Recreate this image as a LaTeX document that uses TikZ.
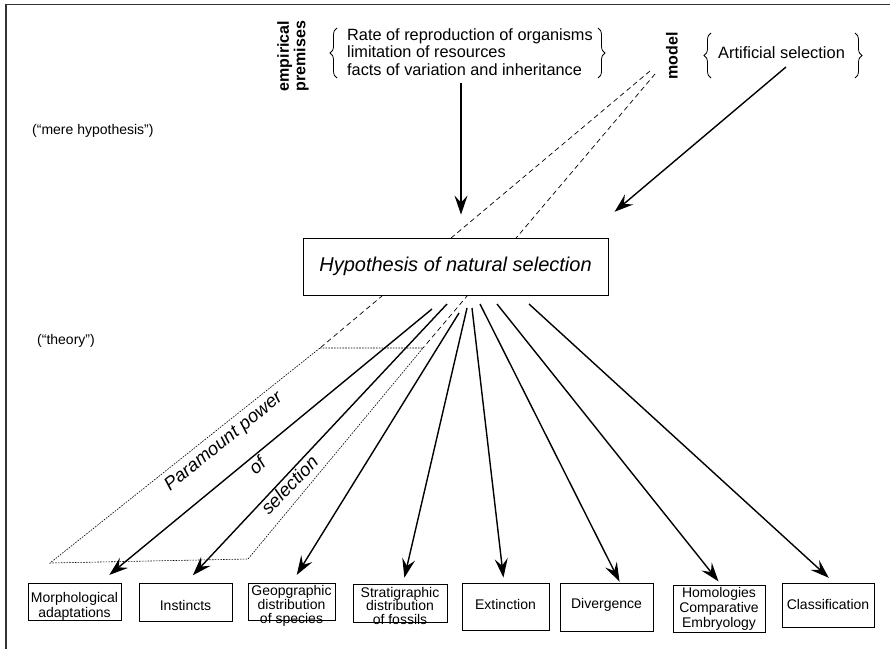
\documentclass[tikz,border=0pt]{standalone}
\usepackage{fontspec}
\setmainfont{Liberation Sans}
\usetikzlibrary{arrows.meta,decorations.pathreplacing}
\begin{document}
\begin{tikzpicture}[x=1pt,y=-1pt,
  premtxt/.style={font=\fontsize{16.3}{17.5}\selectfont, inner sep=0pt, anchor=base west},
  sidetxt/.style={font=\fontsize{14}{16}\selectfont, inner sep=0pt, anchor=base west},
  vlabel/.style={font=\fontsize{16}{16.5}\selectfont\bfseries, inner sep=0pt, rotate=90, align=center},
  outbox/.style={draw, line width=0.9pt, inner sep=0pt},
  intxt/.style={font=\fontsize{14}{#1}\selectfont, align=center, inner sep=0pt},
  arr/.style={line width=1.4pt, -{Stealth[length=19pt,width=13pt,inset=7pt]}},
  longdash/.style={line width=0.7pt, dash pattern=on 5pt off 3.5pt},
  finedot/.style={line width=0.6pt, dash pattern=on 1.6pt off 1.2pt},
  brc/.style={decorate, decoration={brace, amplitude=7pt}, line width=0.8pt},
  slanted/.style={font=\fontsize{18.5}{20}\selectfont\itshape, inner sep=0pt},
]
\useasboundingbox (0,0) rectangle (890,649);
% frame
\draw[line width=1.6pt, black!80] (6,649) -- (6,4.5) -- (890,4.5);

% top: empirical premises
\node[vlabel] (emp) at (293,56) {empirical\\premises};
\draw[brc] (337,78) -- (337,28);
\node[premtxt] (p1) at (347,40) {Rate of reproduction of organisms};
\node[premtxt] (p2) at (347,57.5) {limitation of resources};
\node[premtxt] (p3) at (347,75) {facts of variation and inheritance};
\draw[brc] (598,28) -- (598,78);

% model
\node[vlabel] (model) at (672,56) {model};
\draw[brc] (711,78) -- (711,33);
\node[premtxt, font=\fontsize{16.4}{18}\selectfont] (art) at (718,58.5) {Artificial selection};
\draw[brc] (855,33) -- (855,78);

% side labels
\node[sidetxt] (mere) at (32,134.5) {(“mere hypothesis”)};
\node[sidetxt] (theory) at (37,344) {(“theory”)};

% dashed lines and parallelogram
\coordinate (m1) at (650,71);
\coordinate (m2) at (655,74);
\coordinate (q1) at (320,348);
\coordinate (q2) at (423,348);
\coordinate (q3) at (248,559);
\coordinate (q4) at (50,563);
\draw[longdash] (m1) -- (q1);
\draw[longdash] (m2) -- (q2);
\draw[finedot] (q1) -- (q2) -- (q3) -- (q4) -- cycle;

% hypothesis box
\node[draw, fill=white, line width=0.9pt, minimum width=305pt, minimum height=57pt,
      font=\fontsize{20}{22}\selectfont\itshape, inner sep=0pt] (hyp) at (455.5,266.5)
      {Hypothesis of natural selection};

% arrows into hypothesis
\coordinate (premout) at (461,83);
\coordinate (artout) at (786,67);
\draw[arr, shorten >=23pt] (premout) -- ([xshift=5.5pt]hyp.north);
\draw[arr, shorten >=40pt] (artout) -- ([xshift=128.5pt]hyp.north);

% bottom boxes (fixed size, text as centred label)
\node[outbox, minimum width=93pt, minimum height=37pt,
  label={[intxt=15.5, yshift=-5pt]center:Morphological\\adaptations}] (b1) at (74.5,601.5) {};
\node[outbox, minimum width=93pt, minimum height=38pt,
  label={[intxt=15.5, yshift=-3pt]center:Instincts}] (b2) at (185.5,602) {};
\node[outbox, minimum width=87pt, minimum height=37pt,
  label={[intxt=14, yshift=-4pt]center:Geopgraphic\\distribution\\of species}] (b3) at (291.5,601.5) {};
\node[outbox, minimum width=94pt, minimum height=38pt,
  label={[intxt=13.5, yshift=-2.5pt]center:Stratigraphic\\distribution\\of fossils}] (b4) at (400,603) {};
\node[outbox, minimum width=87pt, minimum height=47pt,
  label={[intxt=15.5, yshift=2.5pt]center:Extinction}] (b5) at (505.5,606.5) {};
\node[outbox, minimum width=93pt, minimum height=48pt,
  label={[intxt=15.5, yshift=2pt]center:Divergence}] (b6) at (606.5,607) {};
\node[outbox, minimum width=92pt, minimum height=47pt,
  label={[intxt=15.2, yshift=-0.5pt]center:Homologies\\Comparative\\Embryology}] (b7) at (719,608.5) {};
\node[outbox, minimum width=92pt, minimum height=44pt,
  label={[intxt=15.5, yshift=1pt]center:Classification}] (b8) at (828,605) {};

% fan of arrows
\coordinate (s1) at (432,309);
\coordinate (s2) at (447,304);
\coordinate (s3) at (459,313);
\coordinate (s4) at (467,308);
\coordinate (s5) at (472,308);
\coordinate (s6) at (480,304);
\coordinate (s7) at (497,304);
\coordinate (s8) at (529,304);
\draw[arr, shorten >=12pt] (s1) -- ([xshift=25.5pt]b1.north);
\draw[arr, shorten >=10pt] (s2) -- ([xshift=0.5pt]b2.north);
\draw[arr, shorten >=9pt] (s3) -- ([xshift=0.5pt]b3.north);
\draw[arr, shorten >=6pt] (s4) -- ([xshift=3pt]b4.north);
\draw[arr, shorten >=5pt] (s5) -- ([xshift=-1.5pt]b5.north);
\draw[arr, shorten >=1pt] (s6) -- ([xshift=13.5pt]b6.north);
\draw[arr, shorten >=4pt] (s7) -- ([xshift=2pt]b7.north);
\draw[arr, shorten >=7pt] (s8) -- ([xshift=6pt]b8.north);

% slanted labels
\node[slanted, rotate=39] (pp) at (224,442) {Paramount power};
\node[slanted, rotate=43] (of) at (257,465) {of};
\node[slanted, rotate=46] (sel) at (289.5,485) {selection};
\end{tikzpicture}
\end{document}
